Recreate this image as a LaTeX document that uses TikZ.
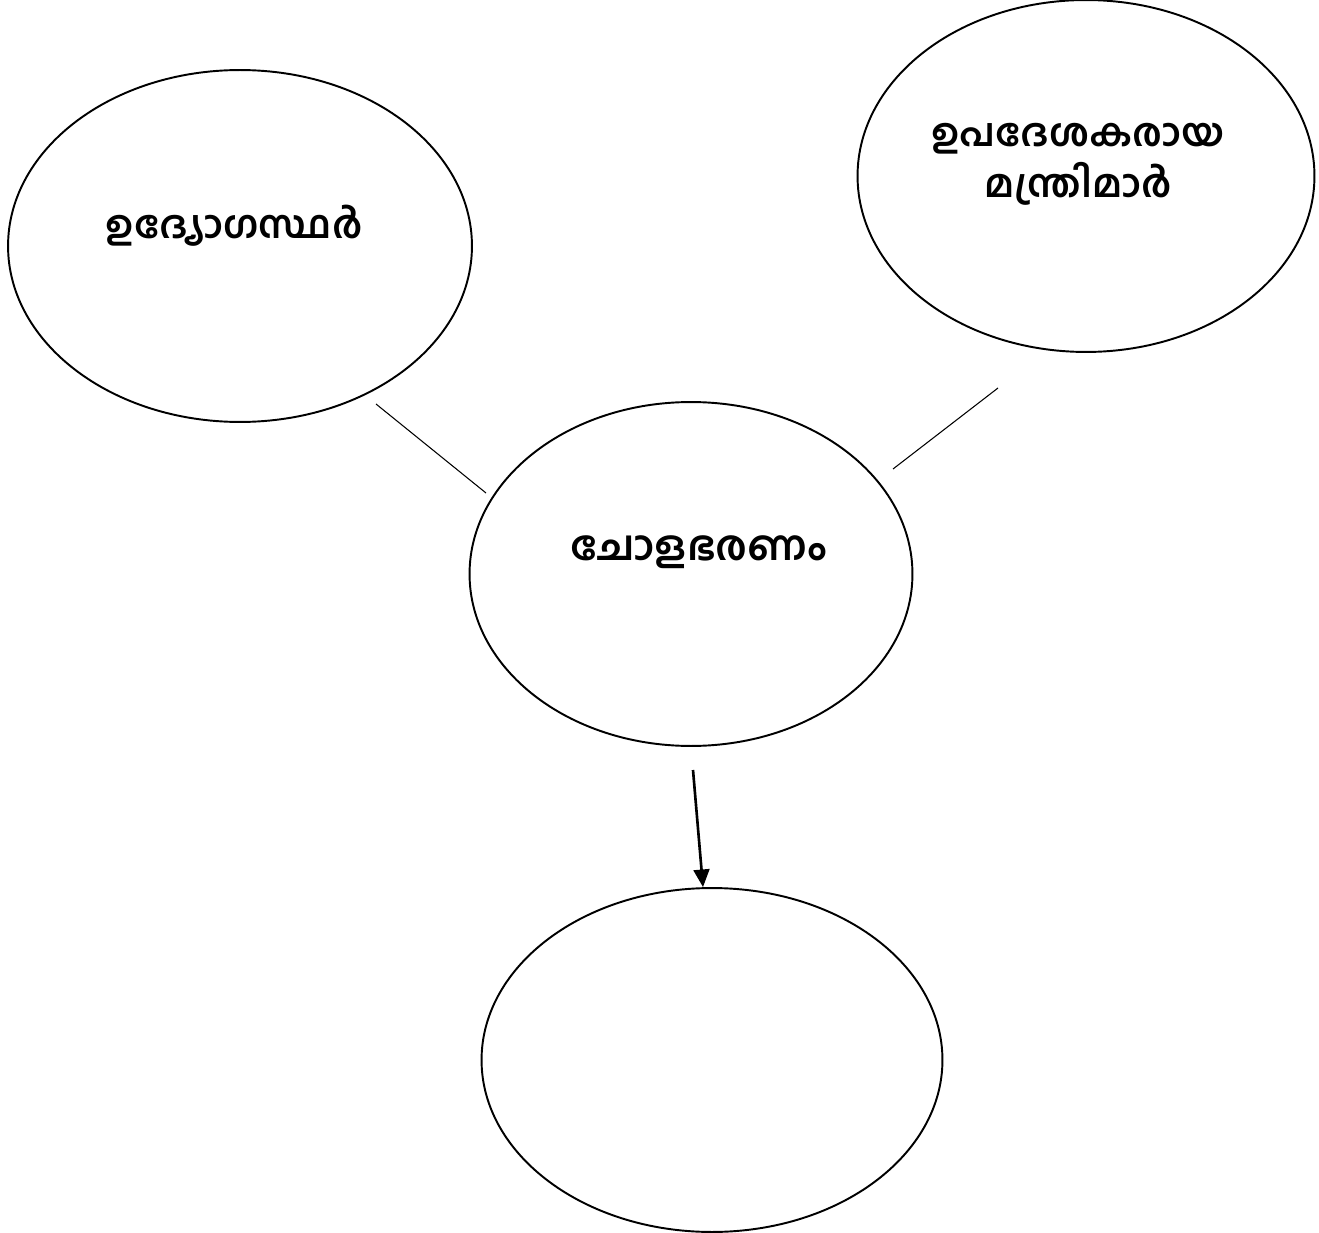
\documentclass[tikz,border=0pt]{standalone}
\usepackage{fontspec}
\newfontfamily\malfont[Script=Malayalam]{Hind Kochi}
\usetikzlibrary{arrows.meta,shapes.geometric}

\tikzset{
  bubble/.style={draw, ellipse, line width=1.1pt, inner sep=0pt},
  word/.style={font=\malfont\bfseries\fontsize{22}{29}\selectfont, align=center},
  link/.style={line width=0.6pt},
}

\begin{document}
\begin{tikzpicture}[x=0.02cm, y=-0.02cm, >={Triangle[length=10pt,width=9pt]}]
  % --------- page ----------
  \useasboundingbox (0,0) rectangle (1319,1233);

  % ============== Bubbles =================
  \node[bubble, minimum width=9.28cm, minimum height=7.04cm] (staff) at (240,246) {};
  \node[bubble, minimum width=9.14cm, minimum height=7.04cm] (council) at (1086,176) {};
  \node[bubble, minimum width=8.86cm, minimum height=6.88cm] (chola) at (691,574) {};
  \node[bubble, minimum width=9.22cm, minimum height=6.88cm] (result) at (712,1060) {};

  % Labels
  \node[word] (staffT) at (234,226) {ഉദ്യോഗസ്ഥർ};
  \node[word] (councilT) at (1078,164) {ഉപദേശകരായ\\മന്ത്രിമാർ};
  \node[word, font=\malfont\bfseries\fontsize{23.5}{29}\selectfont] (cholaT) at (699,552) {ചോളഭരണം};

  % ============== Links =================
  \coordinate (s1) at (376,404);
  \coordinate (s2) at (486,493);
  \coordinate (c1) at (998,388);
  \coordinate (c2) at (893,469);
  \coordinate (a1) at (693,770);

  \draw[link] (s1) -- (s2);
  \draw[link] (c1) -- (c2);

  % Arrow down
  \draw[->, line width=1.5pt] (a1) -- ([xshift=-0.18cm]result.north);
\end{tikzpicture}
\end{document}
